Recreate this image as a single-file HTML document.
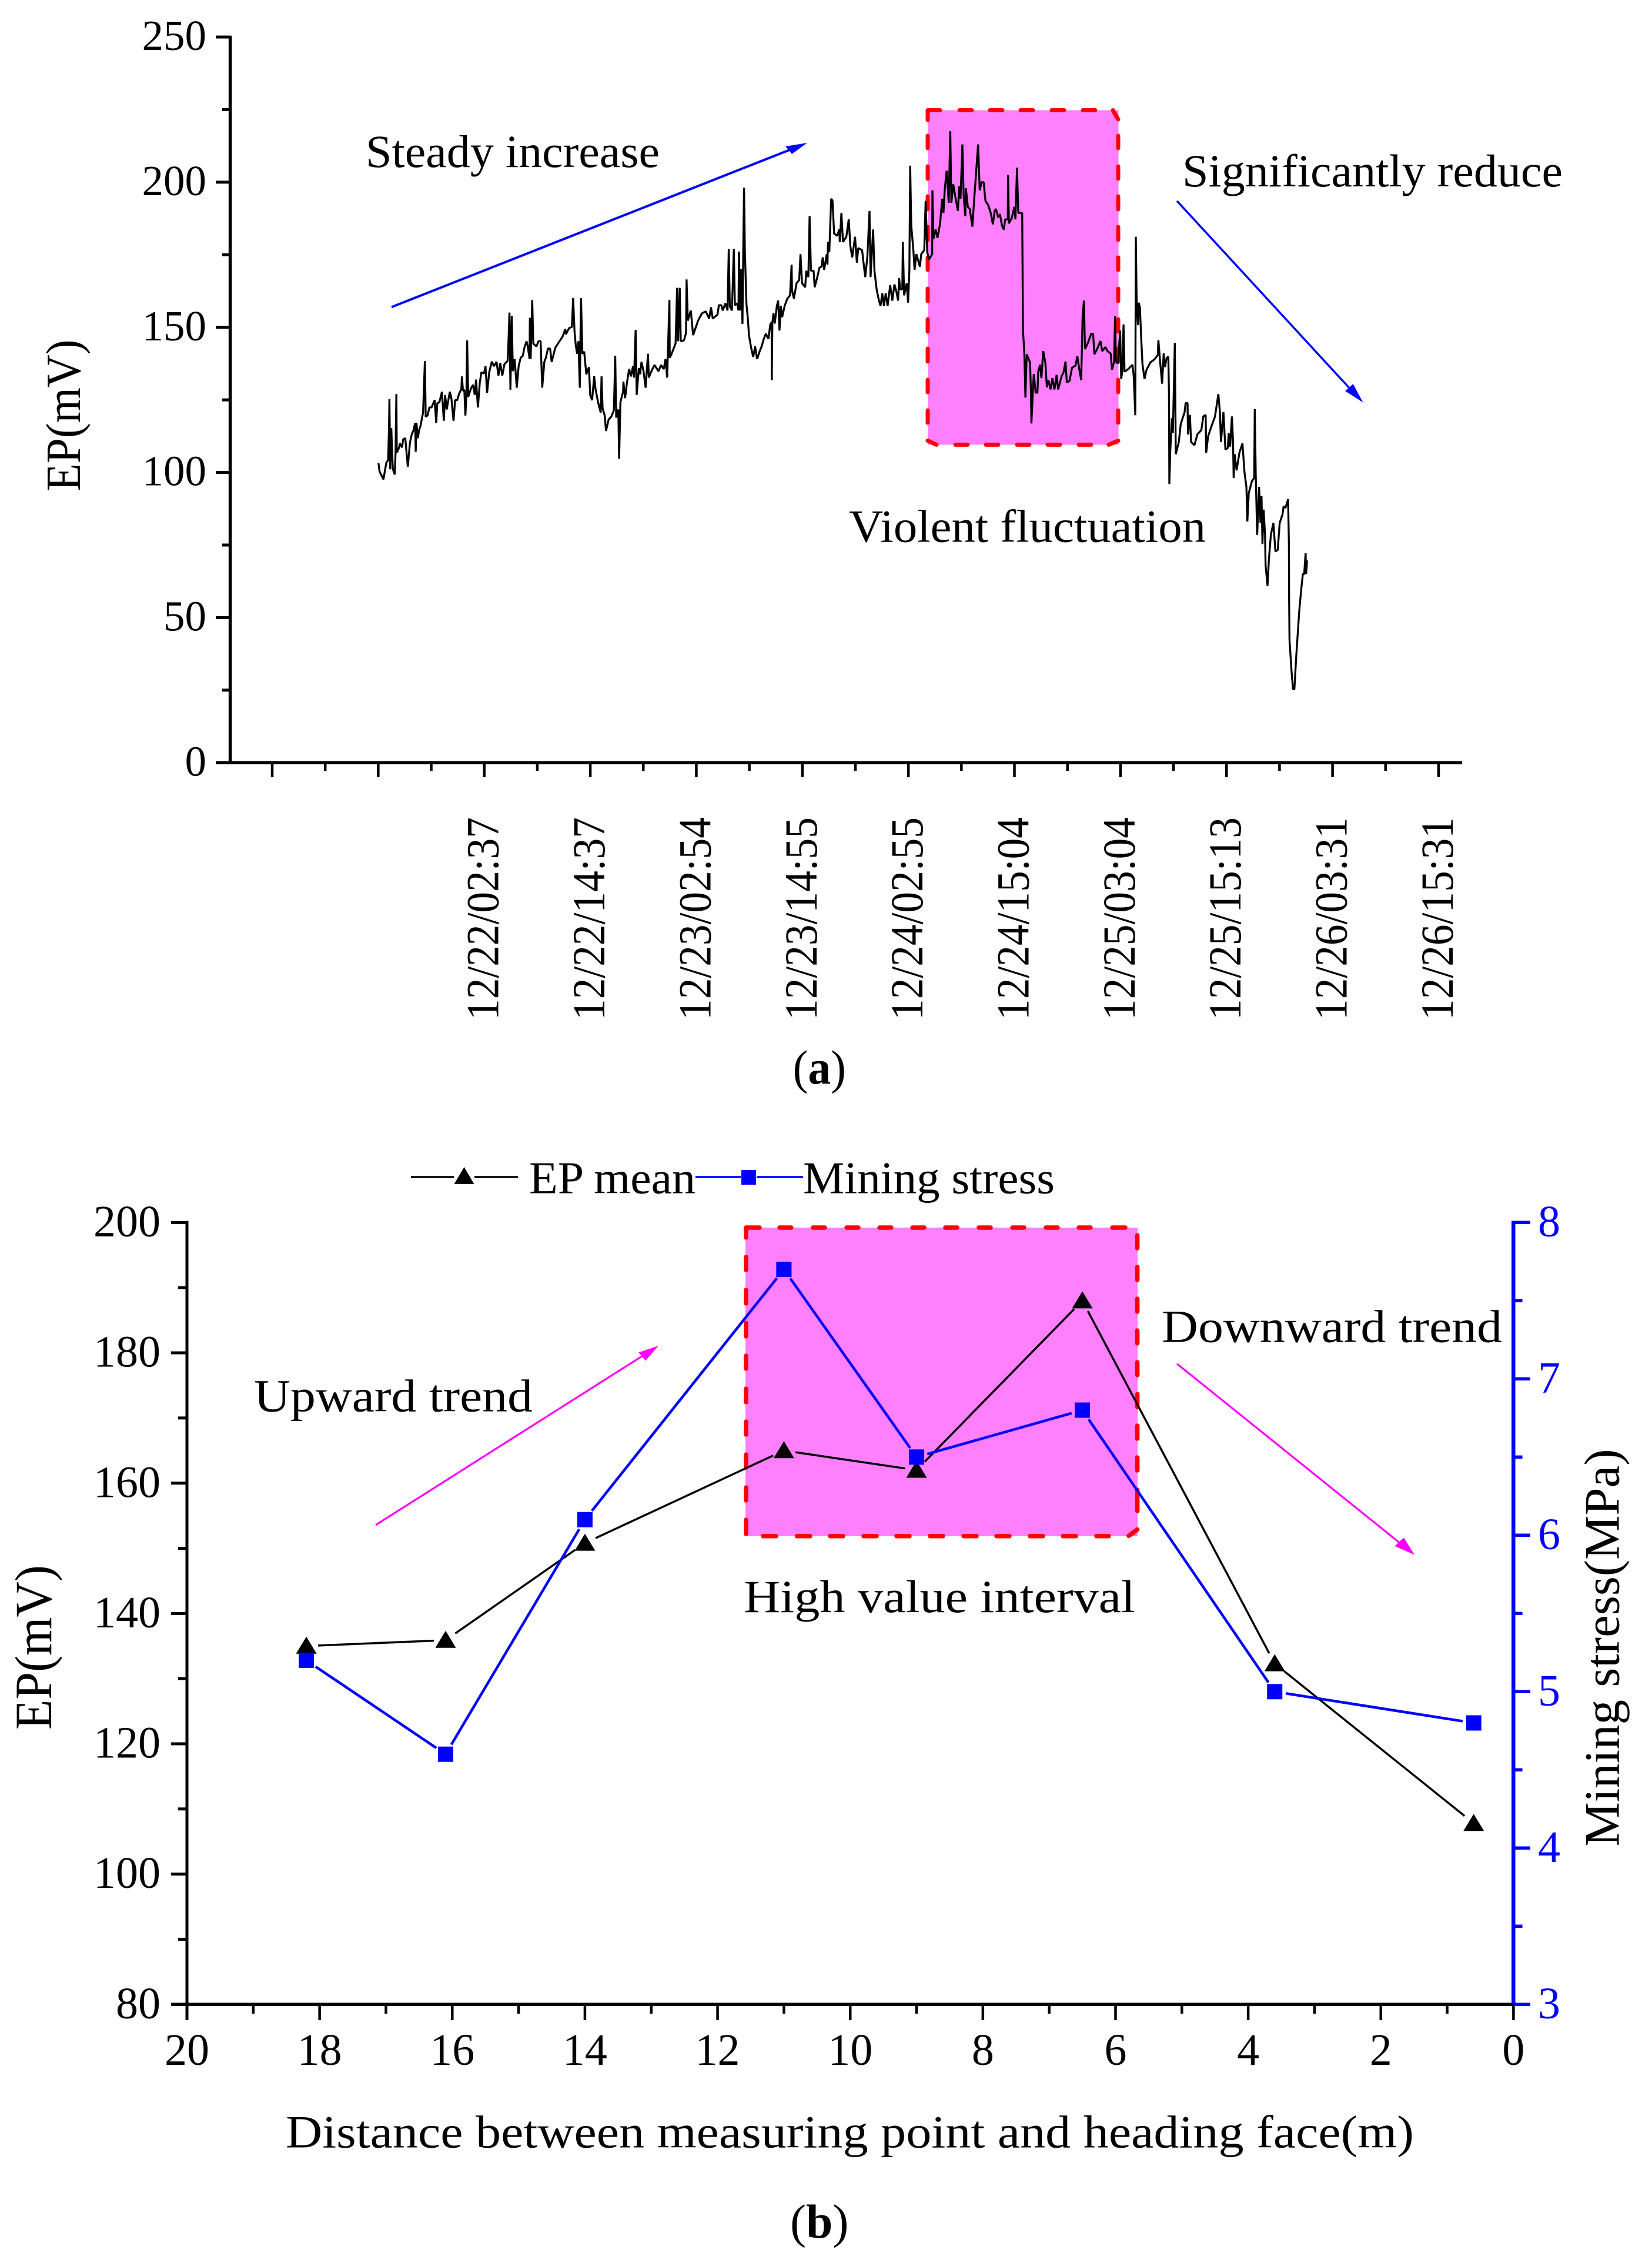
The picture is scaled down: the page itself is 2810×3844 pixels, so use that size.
<!DOCTYPE html>
<html lang="en">
<head>
<meta charset="utf-8">
<title>EP and mining stress charts</title>
<style>
html,body{margin:0;padding:0;background:#fff;}
svg{display:block;}
text{font-family:"Liberation Serif",serif;fill:#000;}
</style>
</head>
<body>
<svg id="figure" xmlns="http://www.w3.org/2000/svg" width="2810" height="3844" viewBox="0 0 2810 3844">
  <rect x="0" y="0" width="2810" height="3844" fill="#fff"/>

  <!-- Panel a annotations -->
  <g id="panel-a">
    <rect x="1578" y="187.5" width="324.5" height="569" fill="#ff80ff"/>
    <path fill="none" stroke="#ff0000" stroke-width="7" stroke-linecap="round" stroke-linejoin="round"
      d="M1578 204V187.5H1599 M1632 187.5H1653 M1684 187.5H1705 M1736 187.5H1757 M1789 187.5H1810 M1842 187.5H1863 M1893 187.5L1902 203
         M1902 231V252 M1902 283V304 M1902 334V356 M1902 386V408 M1902 438V459 M1902 491V512 M1902 543V564 M1902 593V615 M1902 646V667 M1902 698V719
         M1578 231V252 M1578 283V304 M1578 334V356 M1578 386V408 M1578 438V459 M1578 491V512 M1578 543V564 M1578 593V615 M1578 646V667 M1578 698V719
         M1578 749.5L1593 756.4 M1625 756.4H1646 M1677 756.4H1698 M1730 756.4H1751 M1782 756.4H1803 M1835 756.4H1856 M1886 756.4L1902 749.5"/>
    <g id="a-series"></g>
    <g id="a-axes"></g>
    <line x1="666" y1="522.3" x2="1348" y2="253" stroke="#0000ff" stroke-width="4"/>
    <polygon points="1373,243 1336,249 1342,255.5 1347,262" fill="#0000ff"/>
    <line x1="2002" y1="341.8" x2="2298" y2="663" stroke="#0000ff" stroke-width="3.5"/>
    <polygon points="2318.5,684.5 2288,665 2295,659 2301.5,653" fill="#0000ff"/>
    <text x="622" y="284" font-size="78" textLength="500" lengthAdjust="spacingAndGlyphs">Steady increase</text>
    <text x="2011" y="317" font-size="78" textLength="647" lengthAdjust="spacingAndGlyphs">Significantly reduce</text>
    <text x="1444" y="921.6" font-size="78" textLength="607" lengthAdjust="spacingAndGlyphs">Violent fluctuation</text>
    <text transform="translate(136,835.5) rotate(-90)" x="0" y="0" font-size="84" textLength="258" lengthAdjust="spacingAndGlyphs">EP(mV)</text>
    <text x="1348.6" y="1843" font-size="82" textLength="90.4" lengthAdjust="spacingAndGlyphs">(<tspan font-weight="bold">a</tspan>)</text>
  </g>

  <!-- Panel b annotations -->
  <g id="panel-b">
    <rect x="1268" y="2088" width="667" height="525" fill="#ff80ff"/>
    <path fill="none" stroke="#ff0000" stroke-width="7.5" stroke-linecap="round" stroke-linejoin="round"
      d="M1269 2105V2088H1292 M1326 2088H1346 M1383 2088H1403 M1440 2088H1460 M1496 2088H1516 M1552 2088H1572 M1608 2088H1628 M1665 2088H1685 M1722 2088H1742 M1779 2088H1799 M1835 2088H1855 M1892 2088H1914
         M1934.6 2101V2123 M1934.6 2155V2177 M1934.6 2209V2231 M1934.6 2263V2285 M1934.6 2317V2339 M1934.6 2371V2393 M1934.6 2425V2447 M1934.6 2479V2501 M1934.6 2534V2570 M1934.6 2601.5L1920 2612.4
         M1269 2138V2160 M1269 2194V2217 M1269 2250V2273 M1269 2306V2328 M1269 2362V2385 M1269 2418V2440 M1269 2474V2496 M1269 2530V2552 M1269 2585V2609
         M1298 2612.8H1320 M1355.6 2612.8H1378 M1412 2612.8H1434 M1469 2612.8H1491 M1525 2612.8H1547 M1582 2612.8H1604 M1639 2612.8H1661 M1695 2612.8H1717 M1752 2612.8H1774 M1808 2612.8H1830 M1865 2612.8H1886"/>
    <g id="b-series"></g>
    <g id="b-axes"></g>
    <line x1="639" y1="2593.9" x2="1098" y2="2303" stroke="#ff00ff" stroke-width="3.2"/>
    <polygon points="1120,2289 1086,2300.5 1092,2307 1098,2314.5" fill="#ff00ff"/>
    <line x1="2002" y1="2319.6" x2="2388" y2="2630" stroke="#ff00ff" stroke-width="3.2"/>
    <polygon points="2406,2644.5 2372.7,2630 2380,2622 2388,2615.5" fill="#ff00ff"/>

    <line x1="699" y1="2002" x2="772" y2="2002" stroke="#000" stroke-width="3.5"/>
    <line x1="807" y1="2002" x2="881" y2="2002" stroke="#000" stroke-width="3.5"/>
    <polygon points="789.5,1985 772.5,2014 806.5,2014" fill="#000"/>
    <text x="900" y="2029.5" font-size="77" textLength="283" lengthAdjust="spacingAndGlyphs">EP mean</text>
    <line x1="1183" y1="2002" x2="1260" y2="2002" stroke="#0000ff" stroke-width="3.5"/>
    <line x1="1287" y1="2002" x2="1366" y2="2002" stroke="#0000ff" stroke-width="3.5"/>
    <rect x="1261" y="1990" width="25" height="25" fill="#0000ff"/>
    <text x="1366" y="2029.5" font-size="77" textLength="428" lengthAdjust="spacingAndGlyphs">Mining stress</text>

    <text x="432" y="2400.6" font-size="78" textLength="474" lengthAdjust="spacingAndGlyphs">Upward trend</text>
    <text x="1265" y="2741.8" font-size="78" textLength="666" lengthAdjust="spacingAndGlyphs">High value interval</text>
    <text x="1976" y="2282.6" font-size="78" textLength="579" lengthAdjust="spacingAndGlyphs">Downward trend</text>
    <text x="486" y="3652.6" font-size="78" textLength="1919" lengthAdjust="spacingAndGlyphs">Distance between measuring point and heading face(m)</text>
    <text transform="translate(87,2942) rotate(-90)" x="0" y="0" font-size="89" textLength="280" lengthAdjust="spacingAndGlyphs">EP(mV)</text>
    <text transform="translate(2753.6,3140.8) rotate(-90)" x="0" y="0" font-size="85" textLength="676.4" lengthAdjust="spacingAndGlyphs">Mining stress(MPa)</text>
    <text x="1344" y="3806" font-size="82" textLength="99.5" lengthAdjust="spacingAndGlyphs">(<tspan font-weight="bold">b</tspan>)</text>
  </g>
</svg>

<script>
// ---------- Panel (a) data ----------
const epHours = [12.03,12.14,12.59,12.83,12.92,13.12,13.21,13.27,13.36,13.48,13.57,13.66,13.87,13.96,14.05,14.10,14.31,14.46,14.70,14.82,15.06,15.20,15.35,15.59,15.80,16.00,16.18,16.24,16.33,16.48,16.63,16.78,17.07,17.28,17.37,17.58,17.79,18.03,18.38,18.56,18.68,18.92,19.21,19.42,19.57,19.75,20.10,20.28,20.52,20.70,20.94,21.14,21.41,21.47,21.59,21.74,21.86,21.98,22.06,22.18,22.48,22.72,22.93,23.07,23.28,23.49,23.67,23.97,24.14,24.32,24.56,24.86,25.09,25.39,25.60,25.81,26.04,26.28,26.64,26.70,26.85,26.96,27.11,27.23,27.44,27.68,27.89,28.12,28.36,28.54,28.78,28.92,29.13,29.16,29.25,29.43,29.55,29.90,30.14,30.38,30.56,30.80,30.97,31.21,31.45,31.63,32.04,32.43,32.88,33.17,33.23,33.62,33.91,34.06,34.21,34.36,34.51,34.66,34.81,34.95,35.10,35.31,35.55,35.85,35.99,36.20,36.44,36.59,36.88,37.18,37.27,37.39,37.63,37.78,38.07,38.37,38.67,38.82,38.93,39.17,39.26,39.41,39.71,39.75,39.94,40.15,40.39,40.60,40.83,40.95,41.13,41.25,41.49,41.64,41.79,42.02,42.26,42.53,42.62,42.97,43.27,43.71,44.01,44.31,44.52,44.70,44.96,44.99,45.20,45.65,45.82,45.94,46.12,46.24,46.60,46.83,46.89,47.04,47.37,47.64,47.87,48.20,48.62,49.06,49.45,49.66,49.86,50.40,50.55,50.84,50.99,51.29,51.53,51.67,51.79,52.03,52.24,52.36,52.62,52.77,52.83,52.95,53.07,53.22,53.31,53.40,53.49,53.67,53.81,53.96,54.20,54.44,54.65,54.88,55.15,55.39,55.62,55.86,56.16,56.37,56.52,56.54,56.61,56.73,56.87,57.11,57.26,57.41,57.56,57.71,58.00,58.30,58.60,58.78,58.83,59.04,59.34,59.64,59.79,59.96,60.32,60.44,60.68,60.82,60.97,61.27,61.39,61.72,61.92,62.16,62.31,62.46,62.76,62.84,62.90,63.05,63.26,63.41,63.59,63.94,64.18,64.24,64.42,64.60,64.98,65.25,65.43,65.64,65.96,66.17,66.32,66.76,66.97,67.12,67.36,67.60,67.72,68.01,68.16,68.40,68.64,68.84,69.05,69.23,69.44,69.65,69.94,70.18,70.42,70.63,70.83,70.95,71.07,71.31,71.37,71.52,71.81,71.96,72.11,72.20,72.32,72.56,72.70,72.91,73.30,73.45,73.80,73.89,73.95,74.13,74.34,74.69,74.72,74.84,75.08,75.29,75.59,75.82,75.97,76.12,76.33,76.57,76.74,76.86,77.07,77.31,77.60,77.75,77.90,78.11,78.26,78.44,78.50,78.73,78.94,79.24,79.45,79.57,79.89,80.07,80.28,80.52,80.72,81.02,81.32,81.56,81.76,81.91,82.15,82.36,82.59,82.80,82.95,83.25,83.28,83.37,83.69,83.99,84.11,84.29,84.44,84.88,84.97,85.12,85.24,85.39,85.77,85.86,85.92,86.07,86.19,86.40,86.60,86.69,86.90,87.05,87.26,87.50,87.67,87.85,88.09,88.30,88.53,88.77,88.95,89.34,89.54,89.78,89.93,90.23,90.52,90.91,91.12,91.33,91.56,91.71,91.86,91.98,92.31,92.69,92.90,93.05,93.35,93.73,93.94,94.30,94.53,94.89,95.04,95.28,95.39,95.48,95.72,95.96,96.08,96.20,96.35,96.46,96.91,97.36,97.50,97.68,97.74,97.83,97.98,98.05,98.20,98.34,98.49,98.72,98.94,99.38,99.82,100.22,100.29,100.45,100.71,100.89,101.04,101.22,101.42,101.49,101.53,101.64,101.82,101.93,102.15,102.26,102.60,102.82,103.26,103.37,103.59,103.64,103.86,103.99,104.37,104.70,105.15,105.37,105.64,105.70,105.92,106.26,106.70,107.08,107.25,107.37,107.65,107.88,108.14,108.25,108.41,108.61,108.74,108.81,108.92,109.14,109.47,109.81,110.03,110.25,110.36,110.52,110.87,111.14,111.20,111.31,111.47,111.69,111.85,111.96,112.07,112.20,112.36,112.42,112.64,112.80,113.02,113.31,113.53,113.80,114.02,114.35,114.46,114.68,114.97,115.06,115.08,115.13,115.35,115.53,115.68,115.90,116.13,116.24,116.46,116.64,116.79,116.95,117.01,117.12];
const epValues = [103.2,100.4,97.6,101.8,103.4,104.3,113.9,125.3,101.1,115.3,106.8,101.1,99.3,106.8,127.0,106.8,108.2,110.0,108.6,111.4,111.8,106.8,102.0,110.3,113.2,114.6,117.1,107.1,117.1,111.8,114.6,116.0,120.6,138.4,119.2,119.6,122.4,122.4,124.9,117.1,123.8,124.2,127.8,117.8,126.7,121.7,127.8,125.6,117.8,124.9,124.9,127.0,128.8,133.1,128.1,128.5,119.6,126.7,145.5,126.0,128.8,130.2,126.7,132.0,122.4,130.9,134.5,134.1,136.6,127.4,134.5,138.2,136.6,138.1,133.4,137.7,133.4,137.3,138.4,141.6,155.1,128.5,154.0,134.9,139.1,129.2,136.6,139.5,140.2,143.0,145.2,143.4,139.1,153.3,139.1,159.4,144.4,143.4,145.2,145.2,129.2,138.1,139.5,142.7,142.7,138.1,143.0,144.8,146.9,149.4,147.6,149.8,150.1,160.1,148.7,143.7,140.9,145.2,129.2,160.1,140.9,141.6,133.8,136.3,126.7,124.9,133.1,128.8,124.2,120.6,133.1,122.1,119.6,114.3,118.2,119.2,121.4,140.2,118.9,121.7,104.7,124.2,127.8,131.3,125.6,131.0,135.6,133.1,136.6,132.7,149.1,126.7,135.9,133.8,138.1,134.9,129.2,140.9,132.7,135.2,137.0,134.9,137.0,135.6,139.1,132.7,159.4,139.5,140.9,144.4,163.6,145.2,163.6,145.2,145.5,148.0,166.5,152.3,155.8,147.3,149.4,152.3,154.8,155.5,153.0,156.9,153.0,154.4,157.6,157.6,155.8,158.3,155.8,177.0,157.2,155.8,177.0,157.6,158.3,155.8,176.1,155.8,170.0,151.2,175.7,198.1,176.4,157.9,153.7,147.3,143.0,139.8,143.4,139.1,141.6,143.4,145.9,147.8,146.0,151.0,151.7,131.8,151.7,154.9,151.3,157.4,159.2,148.9,157.4,153.5,157.4,159.9,161.0,171.6,162.7,159.9,165.2,166.3,175.2,165.2,163.8,169.5,167.3,188.3,169.5,169.5,163.8,167.7,170.5,170.9,174.1,169.8,175.2,171.6,179.4,175.9,194.3,193.6,182.3,181.5,183.7,179.4,189.4,179.4,181.2,187.2,178.0,174.1,181.2,172.3,177.3,176.6,170.9,167.3,174.4,190.1,167.3,183.7,169.5,163.1,159.5,157.4,161.7,157.4,161.7,157.4,164.5,159.2,164.8,162.4,159.2,167.0,163.1,163.1,179.4,161.0,165.2,158.5,169.5,205.7,185.1,176.6,169.8,175.2,170.9,175.2,176.6,187.2,193.6,175.9,173.4,175.2,197.2,180.5,183.7,180.8,185.8,194.3,189.4,197.9,203.9,192.9,217.6,192.9,199.3,195.0,190.1,198.6,194.3,213.0,195.0,188.3,197.9,191.5,190.8,184.7,194.3,199.3,213.0,197.2,200.0,200.0,193.6,192.2,189.4,185.5,190.1,190.8,187.9,189.0,185.1,183.7,187.2,187.2,202.5,185.8,187.6,191.5,187.2,205.0,189.4,189.4,148.9,141.0,125.8,140.7,137.9,128.3,116.9,126.8,133.9,127.5,127.5,134.7,137.1,132.5,141.8,137.9,129.3,131.8,128.6,132.5,128.6,133.6,128.6,133.2,134.3,138.2,131.1,131.5,136.1,136.8,140.0,135.7,131.8,153.1,159.2,142.5,144.6,147.8,147.8,140.7,142.5,145.3,141.8,143.2,141.8,141.0,135.4,138.2,153.8,138.2,137.5,148.9,132.2,134.7,151.0,134.7,135.7,137.1,133.2,119.7,181.2,159.0,150.8,158.5,157.0,146.6,137.3,132.2,135.3,137.9,138.9,140.4,145.6,139.4,130.6,141.0,136.3,139.4,139.9,127.0,96.0,107.4,118.7,113.6,144.6,106.3,110.5,116.7,120.8,123.9,123.9,113.1,119.8,110.5,109.4,113.1,114.6,119.3,119.8,106.8,112.5,115.6,119.3,127.0,120.8,110.5,120.8,107.9,108.4,113.6,108.9,119.3,110.5,98.1,106.3,100.7,106.9,110.0,100.1,95.0,83.1,92.9,97.0,98.1,121.8,99.1,78.5,95.0,82.6,91.9,75.3,87.2,78.5,68.1,60.9,70.2,78.5,82.6,72.8,73.3,82.6,85.7,88.3,87.8,90.8,75.3,56.8,42.3,31.9,25.3,25.3,37.1,47.5,52.6,59.8,65.0,65.0,72.2,65.0,69.7];
const aYTicks = [0,50,100,150,200,250];
const aYMinorTicks = [25,75,125,175,225];
const aXMajorHours = [0,12,24,36,48,60,72,84,96,108,120,132];
const aXMinorHours = [6,18,30,42,54,66,78,90,102,114,126];
const aXLabelHours = [24,36,48,60,72,84,96,108,120,132];
const aXLabels = ['12/22/02:37','12/22/14:37','12/23/02:54','12/23/14:55','12/24/02:55','12/24/15:04','12/25/03:04','12/25/15:13','12/26/03:31','12/26/15:31'];

// ---------- Panel (b) data ----------
const bDistances = [18.2,16.1,14,11,9,6.5,3.6,0.6];
const bEpMean = [135,135.9,150.8,165,162,188,132.3,107.8];
const bStress = [5.2,4.6,6.1,7.7,6.5,6.8,5.0,4.8];
const bLeftTicks = [80,100,120,140,160,180,200];
const bLeftMinorTicks = [90,110,130,150,170,190];
const bRightTicks = [3,4,5,6,7,8];
const bRightMinorTicks = [3.5,4.5,5.5,6.5,7.5];
const bXTicks = [20,18,16,14,12,10,8,6,4,2,0];
const bXMinorTicks = [19,17,15,13,11,9,7,5,3,1];

// ---------- Axis functions ----------
const aX = h => 463 + h * 15.03;
const aY = v => 1297.3 - v * 4.937;
const bX = d => 318 + (20 - d) * 112.82;
const bYLeft = v => 3409.3 - (v - 80) * 11.083;
const bYRight = s => 3409.3 - (s - 3) * 266;

const NS = 'http://www.w3.org/2000/svg';
function make(tag, parent, attrs) {
  const el = document.createElementNS(NS, tag);
  for (const k in attrs) el.setAttribute(k, attrs[k]);
  parent.appendChild(el);
  return el;
}
function strokeLine(parent, x1, y1, x2, y2, color, width, name) {
  const el = make('line', parent, {x1: x1, y1: y1, x2: x2, y2: y2, stroke: color, 'stroke-width': width});
  
  
  return el;
}
function label(parent, x, y, str, size, anchor, color, name) {
  const el = make('text', parent, {x: x, y: y, 'font-size': size, 'text-anchor': anchor});
  
  
  if (color) el.style.fill = color;
  el.textContent = str;
  return el;
}

// ---------- Panel (a) drawing ----------
const aSeries = document.getElementById('a-series');
const aAxes = document.getElementById('a-axes');
const tracePoints = epHours.map((h, i) => aX(h).toFixed(1) + ',' + aY(epValues[i]).toFixed(1)).join(' ');
const trace = make('polyline', aSeries, {points: tracePoints, fill: 'none', stroke: '#000', 'stroke-width': 3.3, 'stroke-linejoin': 'bevel'});



strokeLine(aAxes, 391.6, 60.7, 391.6, 1299.8, '#000', 5.5, 'panel-a-y-axis-line');
strokeLine(aAxes, 367, 1297.3, 2487, 1297.3, '#000', 5.5, 'panel-a-x-axis-line');
aYTicks.forEach(v => {
  strokeLine(aAxes, 367, aY(v), 391.6, aY(v), '#000', 5, 'panel-a-y-tick-' + v);
  label(aAxes, 351, aY(v) + 22, String(v), 73, 'end', null, 'panel-a-y-tick-label-' + v);
});
aYMinorTicks.forEach(v => {
  strokeLine(aAxes, 378, aY(v), 391.6, aY(v), '#000', 5, 'panel-a-y-minor-tick-' + v);
});
aXMajorHours.forEach(h => {
  strokeLine(aAxes, aX(h), 1297.3, aX(h), 1322, '#000', 4.5, 'panel-a-x-tick-' + h);
});
aXMinorHours.forEach(h => {
  strokeLine(aAxes, aX(h), 1297.3, aX(h), 1311, '#000', 4.5, 'panel-a-x-minor-tick-' + h);
});
aXLabels.forEach((str, i) => {
  const bx = aX(aXLabelHours[i]) + 24;
  const t = make('text', aAxes, {transform: 'translate(' + bx + ',1735) rotate(-90)', x: 0, y: 0, 'font-size': 78, textLength: 345, lengthAdjust: 'spacingAndGlyphs'});
  
  
  t.textContent = str;
});

// ---------- Panel (b) drawing ----------
const bSeries = document.getElementById('b-series');
const bAxes = document.getElementById('b-axes');

function gappedSegments(xs, ys, color, width, gap, name) {
  for (let i = 0; i < xs.length - 1; i++) {
    const dx = xs[i + 1] - xs[i], dy = ys[i + 1] - ys[i];
    const len = Math.hypot(dx, dy);
    const ux = dx / len, uy = dy / len;
    strokeLine(bSeries, xs[i] + ux * gap, ys[i] + uy * gap, xs[i + 1] - ux * gap, ys[i + 1] - uy * gap, color, width, name + '-segment-' + i);
  }
}
const epXs = bDistances.map(bX);
const epYs = bEpMean.map(bYLeft);
const stressYs = bStress.map(bYRight);
gappedSegments(epXs, epYs, '#000', 3.5, 20, 'ep-mean-line');
gappedSegments(epXs, stressYs, '#0000ff', 4.5, 19, 'mining-stress-line');
epXs.forEach((x, i) => {
  const y = epYs[i];
  const tri = make('polygon', bSeries, {points: x + ',' + (y - 16) + ' ' + (x - 17.5) + ',' + (y + 13) + ' ' + (x + 17.5) + ',' + (y + 13), fill: '#000'});
  
  
});
epXs.forEach((x, i) => {
  const y = stressYs[i];
  const sq = make('rect', bSeries, {x: x - 13, y: y - 13, width: 26, height: 26, fill: '#0000ff'});
  
  
});

strokeLine(bAxes, 318, 2076.8, 318, 3436, '#000', 5, 'panel-b-left-axis-line');
strokeLine(bAxes, 291, 3409.3, 2574.3, 3409.3, '#000', 5.5, 'panel-b-x-axis-line');
strokeLine(bAxes, 2574.3, 2076.5, 2574.3, 3409.3, '#0000ff', 6.5, 'panel-b-right-axis-line');
bLeftTicks.forEach(v => {
  strokeLine(bAxes, 291, bYLeft(v), 318, bYLeft(v), '#000', 5, 'panel-b-left-tick-' + v);
  label(bAxes, 273, bYLeft(v) + 23.6, String(v), 76, 'end', null, 'panel-b-left-tick-label-' + v);
});
bLeftMinorTicks.forEach(v => {
  strokeLine(bAxes, 303, bYLeft(v), 318, bYLeft(v), '#000', 5, 'panel-b-left-minor-tick-' + v);
});
bXTicks.forEach(d => {
  strokeLine(bAxes, bX(d), 3409.3, bX(d), 3436, '#000', 4.5, 'panel-b-x-tick-' + d);
  label(bAxes, bX(d), 3512, String(d), 76, 'middle', null, 'panel-b-x-tick-label-' + d);
});
bXMinorTicks.forEach(d => {
  strokeLine(bAxes, bX(d), 3409.3, bX(d), 3425, '#000', 4.5, 'panel-b-x-minor-tick-' + d);
});
bRightTicks.forEach(s => {
  strokeLine(bAxes, 2574.3, bYRight(s), 2603, bYRight(s), '#0000ff', 5.5, 'panel-b-right-tick-' + s);
  label(bAxes, 2616, bYRight(s) + 23.6, String(s), 76, 'start', '#0000ff', 'panel-b-right-tick-label-' + s);
});
bRightMinorTicks.forEach(s => {
  strokeLine(bAxes, 2574.3, bYRight(s), 2589.6, bYRight(s), '#0000ff', 5.5, 'panel-b-right-minor-tick-' + s);
});
</script>
</body>
</html>
